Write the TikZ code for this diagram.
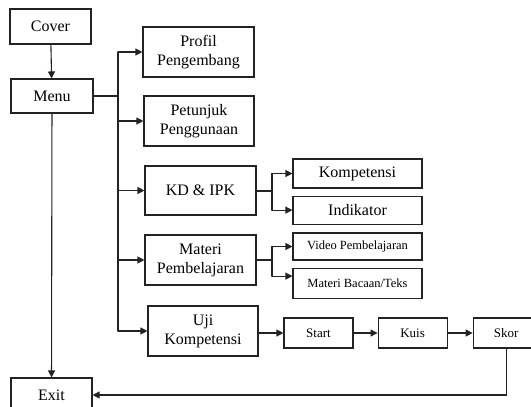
\documentclass[tikz,border=0pt]{standalone}
\usepackage{fontspec}
\setmainfont{Liberation Serif}
\usetikzlibrary{arrows.meta, positioning}
\definecolor{flowLine}{RGB}{35,35,35}
\tikzset{
    flow/.style={>={Triangle[length=7pt, width=7pt]}, line cap=round,
                 line join=miter, x=1pt, y=-1pt},
    menubox/.style={draw=flowLine, line width=1.1pt, fill=white, align=center,
                    inner sep=0pt, font=\fontsize{16}{19}\selectfont},
    subbox/.style={menubox, minimum width=129pt},
    quizbox/.style={menubox, minimum width=69pt, minimum height=30pt,
                    font=\fontsize{13}{15}\selectfont},
    arrow/.style={->, line width=1.1pt, draw=flowLine},
    link/.style={line width=1.1pt, draw=flowLine},
}

\begin{document}
\begin{tikzpicture}[flow]
\clip (0,0) rectangle (531,407);

% ─── Alur utama ─────────────────────────────────────────────────────────
\node[menubox, minimum width=81pt, minimum height=35pt] (cover) at (50.5,26.5) {Cover};
\node[menubox, minimum width=82pt, minimum height=34pt] (menu)  at (52,96)     {Menu};
\node[menubox, minimum width=81pt, minimum height=34pt] (exit)  at (51.5,395)  {Exit};

\draw[arrow] (cover) -- (menu);
\draw[arrow] (menu)  -- (exit);

% ─── Isi menu ───────────────────────────────────────────────────────────
\node[menubox, minimum width=111pt, minimum height=50pt] (profil)   at (198.5,52) {Profil\\Pengembang};
\node[menubox, minimum width=110pt, minimum height=50pt] (petunjuk) at (199,121)  {Petunjuk\\Penggunaan};
\node[menubox, minimum width=111pt, minimum height=49pt] (kd)       at (200.5,190.5) {KD \& IPK};
\node[menubox, minimum width=111pt, minimum height=50pt] (materi)   at (200.5,260) {Materi\\Pembelajaran};
\node[menubox, minimum width=110pt, minimum height=50pt] (uji)      at (203,331)  {Uji\\Kompetensi};

\coordinate (trunk) at (118,96);
\draw[link] (menu.east) -- (trunk);
\draw[link] (trunk |- profil) -- (trunk |- uji);
\foreach \item in {profil, petunjuk, kd, materi, uji}
    \draw[arrow] (trunk |- \item) -- (\item);

% ─── KD & IPK ───────────────────────────────────────────────────────────
\node[subbox, minimum height=29pt] (kompetensi) at (357.5,173.5) {Kompetensi};
\node[subbox, minimum height=28pt, below=7pt of kompetensi] (indikator) {Indikator};

\coordinate (kdfork) at (272,191);
\draw[link] (kd.east |- kdfork) -- (kdfork);
\draw[link] (kdfork |- kompetensi) -- (kdfork |- indikator);
\draw[arrow] (kdfork |- kompetensi) -- (kompetensi);
\draw[arrow] (kdfork |- indikator) -- (indikator);

% ─── Materi ─────────────────────────────────────────────────────────────
\node[subbox, minimum height=27pt, font=\fontsize{12.5}{15}\selectfont] (video) at (357.5,246.5) {Video Pembelajaran};
\node[subbox, minimum height=30pt, font=\fontsize{12.5}{15}\selectfont, below=7pt of video] (bacaan) {Materi Bacaan/Teks};

\coordinate (matfork) at (272,260);
\draw[link] (materi) -- (matfork);
\draw[link] (matfork |- video) -- ([yshift=7pt]matfork |- bacaan);
\draw[arrow] (matfork |- video) -- (video);
\draw[arrow] ([yshift=7pt]matfork |- bacaan) -- ([yshift=7pt]bacaan.west);

% ─── Uji kompetensi ─────────────────────────────────────────────────────
\node[quizbox] (start) at (318.5,333) {Start};
\node[quizbox, right=24pt of start] (kuis) {Kuis};
\node[quizbox, minimum width=66pt, right=25pt of kuis] (skor) {Skor};

\draw[arrow] (uji.east |- start) -- (start);
\draw[arrow] (start) -- (kuis);
\draw[arrow] (kuis)  -- (skor);
\draw[arrow] (skor.south) |- (exit.east);

\end{tikzpicture}
\end{document}
